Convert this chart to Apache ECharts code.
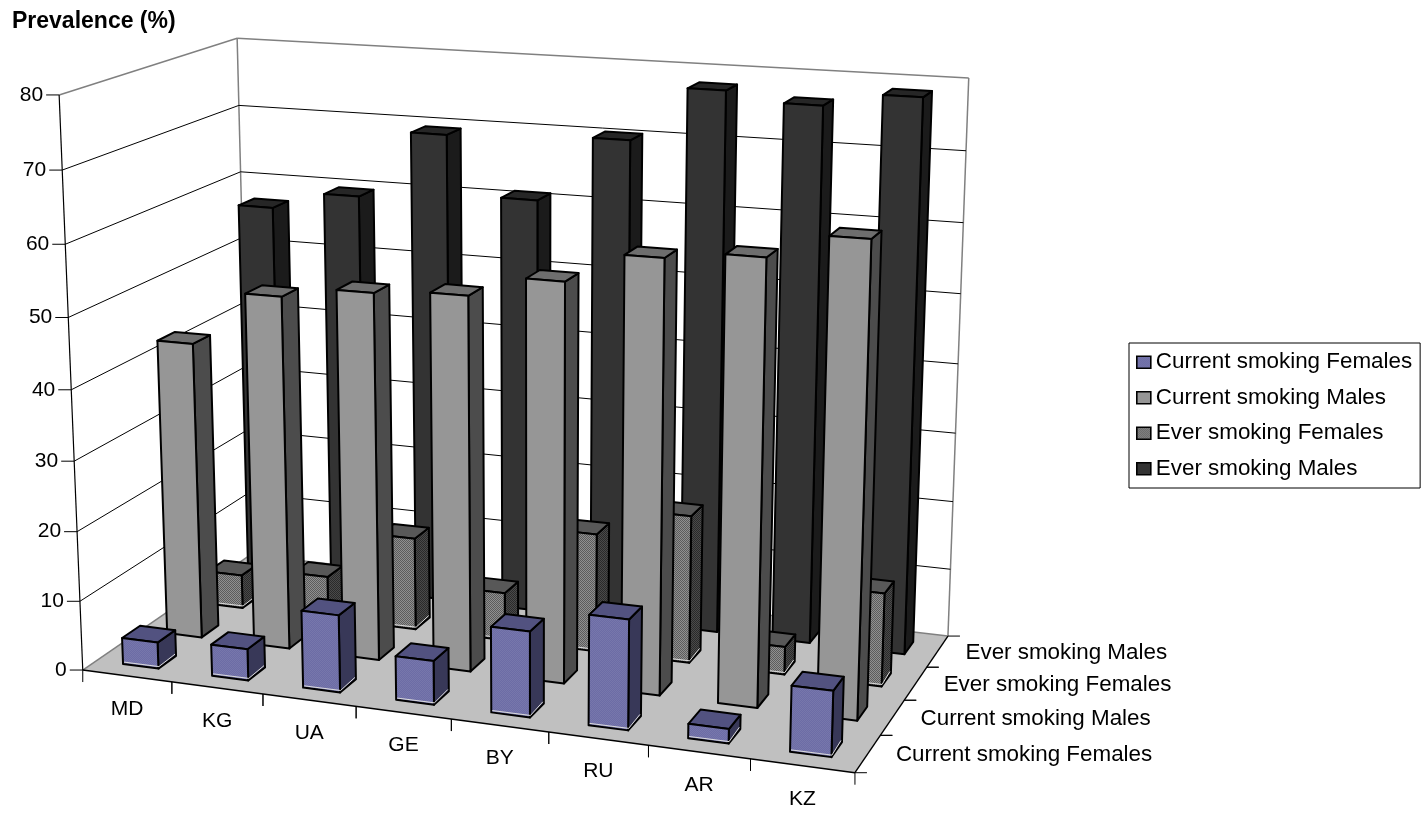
<!DOCTYPE html>
<html><head><meta charset="utf-8">
<style>html,body{margin:0;padding:0;background:#fff}#c{width:1426px;height:817px}</style>
<script src="https://cdn.jsdelivr.net/npm/echarts@6/dist/echarts.min.js"></script>
</head><body><div id="c"></div>
<script>
const countries = ['MD','KG','UA','GE','BY','RU','AR','KZ'];
const valueTicks = [0,10,20,30,40,50,60,70,80];
const seriesNames = ['Current smoking Females','Current smoking Males','Ever smoking Females','Ever smoking Males'];
const currentFemales = [3.8,4.5,11,6.2,12,15.3,2,9];
const currentMales = [43,50.8,52.4,53.1,56.1,60.3,61.4,64.8];
const everFemales = [5,6.3,13.6,7,17.2,21.3,4,13.3];
const everMales = [57,59.6,69.4,60.9,70.3,78,76.7,78.6];
const allValues = [currentFemales,currentMales,everFemales,everMales];

const FONT = '"Liberation Sans", Arial, sans-serif';
const FS = 21;
const FS_LONG = 22.4;

// Camera calibration: box corners [u,v,w] -> screen
const anchors = [
 [0,0,0,83,671],[1,0,0,855,772],[1,1,0,948,637],[0,1,0,250,554],
 [0,0,1,59,95],[0,1,1,237,38],[1,1,1,969,78],
 [0,0,.125,80,601],[0,0,.875,62,170],[0,1,.875,239,105.7],[0,1,.75,241,172],
 [1,1,.875,966,151],[1,1,.75,963,222]];
function solveCamera(){
  const A=[],b=[];
  anchors.forEach(([u,v,w,x,y])=>{
    A.push([u,v,w,1,0,0,0,0,-x*u,-x*v,-x*w]);b.push(x);
    A.push([0,0,0,0,u,v,w,1,-y*u,-y*v,-y*w]);b.push(y);
  });
  const n=11,M=[];
  for(let i=0;i<n;i++){M.push([]);for(let j=0;j<n;j++){let s=0;A.forEach(r=>s+=r[i]*r[j]);M[i].push(s);}
    let s=0;A.forEach((r,k)=>s+=r[i]*b[k]);M[i].push(s);}
  for(let c=0;c<n;c++){let p=c;for(let r=c+1;r<n;r++)if(Math.abs(M[r][c])>Math.abs(M[p][c]))p=r;
    [M[c],M[p]]=[M[p],M[c]];
    for(let r=0;r<n;r++){if(r===c)continue;const f=M[r][c]/M[c][c];for(let k=c;k<=n;k++)M[r][k]-=f*M[c][k];}}
  return M.map((r,i)=>r[n]/r[i]);
}
const P=solveCamera();
function proj(u,v,w){
  const d=P[8]*u+P[9]*v+P[10]*w+1;
  return [(P[0]*u+P[1]*v+P[2]*w+P[3])/d,(P[4]*u+P[5]*v+P[6]*w+P[7])/d];
}
// hidden scale grid: gives u (category) and w (value) through the library's axes
const G={left:100,top:100,width:800,height:400};
function uw(api,c,val){const p=api.coord([c,val]);return [(p[0]-G.left)/G.width,(G.top+G.height-p[1])/G.height];}

function dither(a,b,size){
  const c=document.createElement('canvas');c.width=c.height=size*2;
  const x=c.getContext('2d');x.fillStyle=a;x.fillRect(0,0,size*2,size*2);
  x.fillStyle=b;x.fillRect(0,0,size,size);x.fillRect(size,size,size,size);
  return {image:c,repeat:'repeat'};
}
const styles=[
 {front:dither('#6c6ca6','#7777ab',1),top:'#525280',side:'#383858',light:true,legend:dither('#6c6ca6','#7777ab',1)},
 {front:'#969696',top:'#6e6e6e',side:'#4c4c4c',light:false,legend:'#969696'},
 {front:dither('#909090','#5c5c5c',1),top:'#585858',side:dither('#4a4a4a','#2a2a2a',1),light:true,legend:dither('#909090','#5c5c5c',1)},
 {front:'#333333',top:'#262626',side:'#1b1b1b',light:false,legend:'#333333'}];

function poly(points,fill,stroke,lw){
  return {type:'polygon',shape:{points},style:{fill:fill,stroke:stroke||null,lineWidth:lw||0,lineJoin:'round'}};
}
function line(a,b,color,lw){
  return {type:'line',shape:{x1:a[0],y1:a[1],x2:b[0],y2:b[1]},style:{stroke:color,lineWidth:lw||1,fill:null}};
}
function text(t,x,y,align,size){
  return {type:'text',style:{text:t,x,y,fill:'#000',font:(size||FS)+'px '+FONT,textAlign:align||'center',textVerticalAlign:'middle'}};
}
function barSeries(j){
  const st=styles[j];
  return {
    name:seriesNames[j],type:'custom',coordinateSystem:'cartesian2d',clip:false,silent:true,
    itemStyle:{color:st.legend},z:10+(3-j),
    data:countries.map((c,i)=>[c,allValues[j][i]]),
    encode:{x:0,y:1},
    renderItem(params,api){
      const [uc,w]=uw(api,api.value(0),api.value(1));
      const du=0.2/countries.length, dv=0.2/seriesNames.length;
      const vc=(j+0.5)/seriesNames.length;
      const u0=uc-du,u1=uc+du,v0=vc-dv,v1=vc+dv;
      const a=proj(u0,v0,0),b=proj(u1,v0,0),c=proj(u1,v1,0);
      const e=proj(u0,v0,w),f=proj(u1,v0,w),g=proj(u1,v1,w),h=proj(u0,v1,w);
      const kids=[
        poly([b,c,g,f],st.side,'#000',2),
        poly([e,f,g,h],st.top,'#000',2),
        poly([a,b,f,e],st.front,'#000',2)];
      if(st.light){
        kids.push({type:'polyline',shape:{points:[[a[0]+1,a[1]-1.8],[b[0]+.5,b[1]-2],[c[0]-1,c[1]-1.8]]},style:{stroke:'#dcdcdc',lineWidth:1,fill:null}});
      }
      return {type:'group',children:kids};
    }
  };
}
const frameSeries=[
 {name:'walls',type:'custom',coordinateSystem:'cartesian2d',clip:false,silent:true,z:1,
  data:[[countries[0],valueTicks[valueTicks.length-1]]],encode:{x:0,y:1},
  renderItem(){
    const a=proj(0,0,0),b=proj(1,0,0),c=proj(1,1,0),d=proj(0,1,0),e=proj(0,0,1),f=proj(0,1,1),g=proj(1,1,1);
    return {type:'group',children:[
      poly([a,d,f,e],'#fff'),poly([d,c,g,f],'#fff'),
      poly([a,b,c,d],'#c0c0c0'),
      line(e,f,'#808080',1.5),line(f,g,'#808080',1.5),line(g,c,'#808080',1.5),line(f,d,'#808080',1.5),
      line(a,d,'#808080',1.5),line(d,c,'#808080',1.5)]};
  }},
 {name:'valueAxis',type:'custom',coordinateSystem:'cartesian2d',clip:false,silent:true,z:2,
  data:valueTicks.map(v=>[countries[0],v]),encode:{x:0,y:1},
  renderItem(params,api){
    const w=uw(api,api.value(0),api.value(1))[1];
    const a=proj(0,0,w),d=proj(0,1,w),c=proj(1,1,w);
    const kids=[line([a[0]-13,a[1]],a,'#000',1),text(String(api.value(1)),a[0]-16,a[1],'right')];
    if(w>0&&w<1){kids.push(line(a,d,'#000',1),line(d,c,'#000',1));}
    return {type:'group',children:kids};
  }},
 {name:'axisLines',type:'custom',coordinateSystem:'cartesian2d',clip:false,silent:true,z:3,
  data:[[countries[0],0]],encode:{x:0,y:1},
  renderItem(){
    const a=proj(0,0,0),b=proj(1,0,0),c=proj(1,1,0),e=proj(0,0,1);
    return {type:'group',children:[line(e,a,'#000',1.2),line(a,b,'#000',1.4),line(b,c,'#000',1.4)]};
  }},
 {name:'catAxis',type:'custom',coordinateSystem:'cartesian2d',clip:false,silent:true,z:3,
  data:countries.map(c=>[c,0]),encode:{x:0,y:1},
  renderItem(params,api){
    const uc=uw(api,api.value(0),0)[0], n=countries.length;
    const t0=proj(params.dataIndex/n,0,0), t1=proj((params.dataIndex+1)/n,0,0), m=proj(uc,0,0);
    return {type:'group',children:[
      line(t0,[t0[0],t0[1]+12],'#000',1),line(t1,[t1[0],t1[1]+12],'#000',1),
      text(countries[params.dataIndex],m[0],m[1]+33)]};
  }},
 {name:'depthAxis',type:'custom',coordinateSystem:'cartesian2d',clip:false,silent:true,z:3,
  data:seriesNames.map(s=>[countries[0],0]),encode:{x:0,y:1},
  renderItem(params){
    const j=params.dataIndex,n=seriesNames.length;
    const t0=proj(1,j/n,0),t1=proj(1,(j+1)/n,0),m=proj(1,(j+.5)/n,0);
    return {type:'group',children:[
      line(t0,[t0[0]+12,t0[1]],'#000',1),line(t1,[t1[0]+12,t1[1]],'#000',1),
      text(seriesNames[j],m[0]+28,m[1]+1,'left',FS_LONG)]};
  }}
];
const chart=echarts.init(document.getElementById('c'),null,{renderer:'canvas'});
chart.setOption({
  animation:false,backgroundColor:'#fff',
  title:{text:'Prevalence (%)',left:12,top:10,padding:0,textStyle:{fontFamily:FONT,fontSize:23,fontWeight:'bold',color:'#000'}},
  grid:{left:G.left,top:G.top,width:G.width,height:G.height,show:false},
  xAxis:{type:'category',data:countries,show:false},
  yAxis:{type:'value',min:0,max:80,interval:10,show:false},
  legend:{
    orient:'vertical',left:1129,top:343,padding:[7,8,7,7],itemGap:11,itemWidth:14,itemHeight:12,icon:'rect',
    borderColor:'#000',borderWidth:1,backgroundColor:'#fff',selectedMode:false,
    data:seriesNames,
    itemStyle:{borderColor:'#000',borderWidth:1.6},
    textStyle:{fontFamily:FONT,fontSize:FS_LONG,color:'#000',lineHeight:24.5}
  },
  series:frameSeries.concat([3,2,1,0].map(barSeries))
});
</script></body></html>
